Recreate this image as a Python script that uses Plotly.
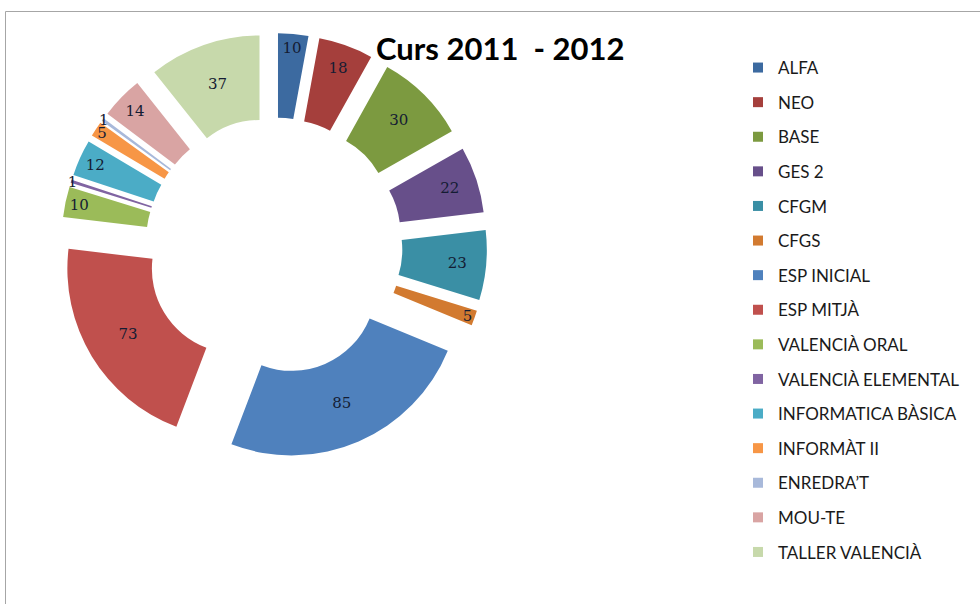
import plotly.graph_objects as go

categories = ["ALFA", "NEO", "BASE", "GES 2", "CFGM", "CFGS", "ESP INICIAL", "ESP MITJÀ",
              "VALENCIÀ ORAL", "VALENCIÀ ELEMENTAL", "INFORMATICA BÀSICA", "INFORMÀT II",
              "ENREDRA’T", "MOU-TE", "TALLER VALENCIÀ"]
values = [10, 18, 30, 22, 23, 5, 85, 73, 10, 1, 12, 5, 1, 14, 37]
colors = ["#3C6AA0", "#A53F3C", "#7C9A40", "#674F8A", "#3A8FA5", "#D27A30", "#4F81BD", "#C0504D",
          "#9BBB59", "#8064A2", "#4BACC6", "#F79646", "#A8B9DA", "#D9A4A3", "#C7D9AB"]
title_text = "Curs 2011  - 2012"

W, H = 980, 604
cx, cy, ext = 274, 246, 213

fig = go.Figure()
fig.add_trace(go.Pie(
    labels=categories, values=values, sort=False, direction="clockwise", rotation=0,
    hole=0.5, pull=0.26,
    marker=dict(colors=colors, line=dict(width=0)),
    textinfo="value", textposition="inside", insidetextorientation="horizontal",
    textfont=dict(family="DejaVu Serif", size=15, color="#141c33"),
    showlegend=False, hoverinfo="label+value",
    domain=dict(x=[(cx - ext) / W, (cx + ext) / W], y=[1 - (cy + ext) / H, 1 - (cy - ext) / H]),
))

for i, (name, col) in enumerate(zip(categories, colors)):
    fig.add_trace(go.Scatter(
        x=[None], y=[None], mode="markers", name=name, legendgroup=f"g{i}",
        marker=dict(symbol="square", size=10, color=col), showlegend=True,
    ))

fig.add_annotation(text=f"<b>{title_text}</b>", x=500 / W, y=1 - 48 / H, xref="paper", yref="paper",
                   showarrow=False, font=dict(family="Lato", size=31, color="#000000"),
                   xanchor="center", yanchor="middle")

fig.add_shape(type="rect", xref="paper", yref="paper", x0=5.5 / W, x1=1.05, y0=-0.05, y1=1 - 11.5 / H,
              line=dict(color="#a6a6a6", width=1), fillcolor="rgba(0,0,0,0)")

fig.update_layout(
    width=W, height=H, margin=dict(l=0, r=0, t=0, b=0),
    paper_bgcolor="white", plot_bgcolor="white",
    xaxis=dict(visible=False), yaxis=dict(visible=False),
    uniformtext=dict(minsize=15, mode="show"),
    legend=dict(x=738 / W, y=1 - 50 / H, xanchor="left", yanchor="top",
                font=dict(family="Lato", size=17, color="#1a1a1a"),
                tracegroupgap=9.5, traceorder="grouped", itemwidth=30,
                bgcolor="rgba(0,0,0,0)"),
)

fig.write_html("out.html", post_script="document.body.style.margin='0';",
               config={"displayModeBar": False})
